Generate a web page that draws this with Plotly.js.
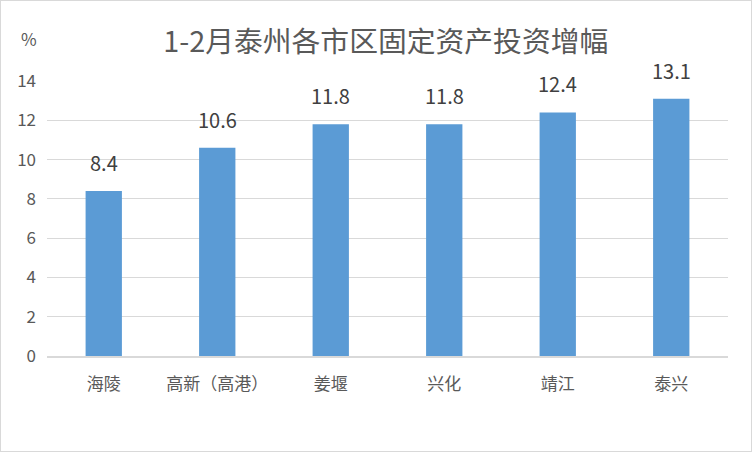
<!DOCTYPE html>
<html>
<head>
<meta charset="utf-8">
<script src="https://cdn.plot.ly/plotly-3.0.1.min.js"></script>
<style>
html,body{margin:0;padding:0;background:#fff;}
#chart{width:750px;height:450px;border:1px solid #d9d9d9;}
</style>
</head>
<body>
<div id="chart"></div>
<script>
const categories = ["海陵", "高新（高港）", "姜堰", "兴化", "靖江", "泰兴"];
const values = [8.4, 10.6, 11.8, 11.8, 12.4, 13.1];
const yTicks = [0, 2, 4, 6, 8, 10, 12, 14];
const chartTitle = "1-2月泰州各市区固定资产投资增幅";
const unitLabel = "%";

const font = '"Noto Sans CJK SC", "Noto Sans", sans-serif';

const labelAnnotations = categories.map((c, i) => ({
  x: c, y: values[i], xref: 'x', yref: 'y',
  text: values[i].toFixed(1), showarrow: false,
  xanchor: 'center', yanchor: 'bottom', yshift: 12,
  font: {family: font, size: 20, color: '#404040'}
}));

Plotly.newPlot('chart', [{
  type: 'bar',
  x: categories,
  y: values,
  marker: {color: '#5b9bd5'},
  hoverinfo: 'none'
}], {
  width: 750, height: 450,
  margin: {l: 46, r: 23, t: 80, b: 95},
  paper_bgcolor: '#ffffff',
  plot_bgcolor: '#ffffff',
  bargap: 0.68,
  showlegend: false,
  title: {text: chartTitle, font: {family: font, size: 28.8, color: '#595959'}, x: 0.513, xanchor: 'center', y: 0.91, yanchor: 'middle'},
  xaxis: {
    type: 'category',
    tickfont: {family: font, size: 17, color: '#595959'},
    showgrid: false,
    showline: true, linecolor: '#d9d9d9', linewidth: 2,
    ticks: '', ticklabelstandoff: 12,
    zeroline: false
  },
  yaxis: {
    range: [0, 14],
    tickvals: yTicks,
    tickfont: {family: font, size: 17, color: '#595959'},
    showgrid: true, gridcolor: '#d9d9d9', gridwidth: 1,
    zeroline: false, showline: false,
    ticks: '', ticklabelstandoff: 10
  },
  annotations: labelAnnotations.concat([{
    text: unitLabel, xref: 'paper', yref: 'paper', x: -0.012, y: 1.155,
    xanchor: 'right', yanchor: 'middle', showarrow: false,
    font: {family: font, size: 17, color: '#595959'}
  }])
}, {staticPlot: true});
</script>
</body>
</html>
